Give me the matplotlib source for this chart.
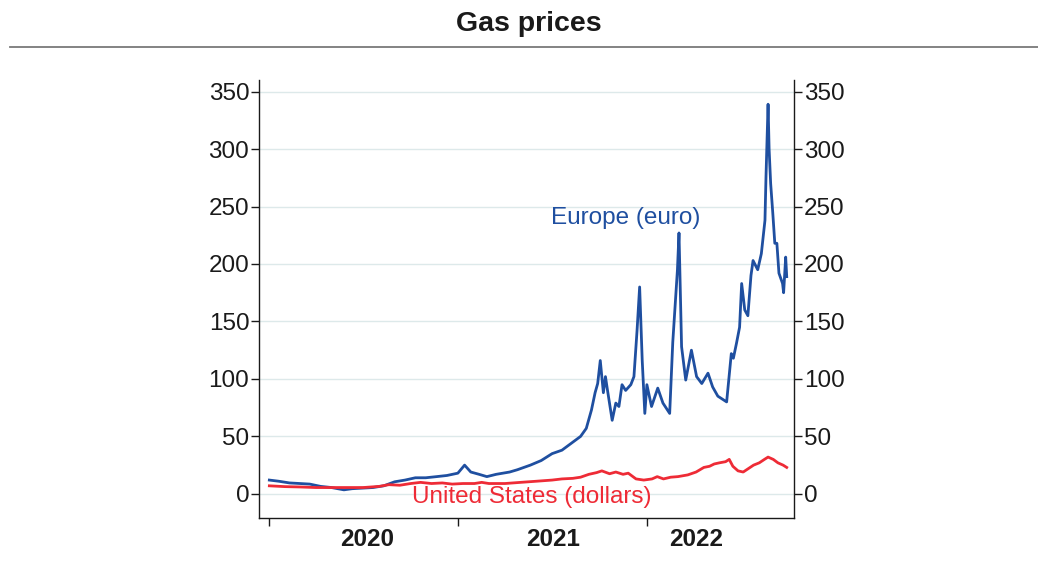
import numpy as np
import pandas as pd
import matplotlib
matplotlib.use("Agg")
import matplotlib.pyplot as plt
from matplotlib.lines import Line2D

plt.rcParams['font.family'] = ['Liberation Sans', 'DejaVu Sans']

# Europe TTF gas price (euro / MWh)
eu_dates = [
    "2020-01-02", "2020-01-20", "2020-02-10", "2020-03-01", "2020-03-20", "2020-04-10",
    "2020-05-01", "2020-05-25", "2020-06-10", "2020-06-30", "2020-07-20", "2020-08-10",
    "2020-08-31", "2020-09-20", "2020-10-10", "2020-10-30", "2020-11-20", "2020-12-10",
    "2020-12-31", "2021-01-13", "2021-01-25", "2021-02-10", "2021-02-25", "2021-03-15",
    "2021-04-10", "2021-04-25", "2021-05-20", "2021-06-10", "2021-07-01", "2021-07-20",
    "2021-08-10", "2021-08-25", "2021-09-05", "2021-09-15", "2021-09-22", "2021-09-27",
    "2021-10-02", "2021-10-08", "2021-10-12", "2021-10-16", "2021-10-25", "2021-11-01",
    "2021-11-07", "2021-11-13", "2021-11-20", "2021-11-30", "2021-12-06", "2021-12-12",
    "2021-12-17", "2021-12-22", "2021-12-27", "2021-12-31", "2022-01-09", "2022-01-21",
    "2022-01-31", "2022-02-13", "2022-02-19", "2022-02-28", "2022-03-03", "2022-03-08",
    "2022-03-16", "2022-03-27", "2022-04-06", "2022-04-16", "2022-04-28", "2022-05-07",
    "2022-05-17", "2022-06-03", "2022-06-12", "2022-06-16", "2022-06-22", "2022-06-28",
    "2022-07-02", "2022-07-08", "2022-07-14", "2022-07-20", "2022-07-24", "2022-08-02",
    "2022-08-09", "2022-08-16", "2022-08-18", "2022-08-22", "2022-08-24", "2022-08-27",
    "2022-08-31", "2022-09-04", "2022-09-08", "2022-09-12", "2022-09-19", "2022-09-21",
    "2022-09-25", "2022-09-27",
]
eu_values = [
    12, 11, 9.5, 9, 8.5, 6.5,
    5.5, 3.5, 4.5, 5, 5.5, 7,
    10.5, 12, 14, 14, 15, 16,
    18, 25, 19, 17, 15, 17,
    19, 21, 25, 29, 35, 38,
    45, 50, 57, 73, 88, 96,
    116, 88, 102, 90, 64, 79,
    76, 95, 90, 95, 102, 142,
    180, 116, 70, 95, 76, 92,
    79, 70, 132, 195, 227, 128,
    99, 125, 102, 96, 105, 93,
    85, 80, 122, 118, 131, 145,
    183, 160, 155, 190, 203, 195,
    209, 238, 276, 339, 300, 270,
    245, 218, 218, 192, 183, 175,
    206, 189,
]

# United States Henry Hub gas price (dollars / MWh)
us_dates = [
    "2020-01-02", "2020-02-01", "2020-03-01", "2020-04-01", "2020-05-01", "2020-06-01",
    "2020-07-01", "2020-08-01", "2020-08-20", "2020-09-10", "2020-10-01", "2020-10-20",
    "2020-11-10", "2020-12-01", "2020-12-20", "2021-01-10", "2021-02-01", "2021-02-15",
    "2021-03-01", "2021-04-01", "2021-05-01", "2021-06-01", "2021-07-01", "2021-07-20",
    "2021-08-10", "2021-08-25", "2021-09-10", "2021-09-25", "2021-10-05", "2021-10-20",
    "2021-11-01", "2021-11-15", "2021-11-25", "2021-12-10", "2021-12-25", "2022-01-10",
    "2022-01-20", "2022-02-01", "2022-02-15", "2022-03-01", "2022-03-20", "2022-04-05",
    "2022-04-20", "2022-05-01", "2022-05-10", "2022-05-20", "2022-06-01", "2022-06-08",
    "2022-06-15", "2022-06-25", "2022-07-05", "2022-07-15", "2022-07-25", "2022-08-05",
    "2022-08-15", "2022-08-22", "2022-09-01", "2022-09-10", "2022-09-20", "2022-09-27",
]
us_values = [
    7, 6.3, 6, 5.5, 5.5, 5.5,
    5.5, 6.5, 8, 7.5, 9, 10,
    9, 9.5, 8.5, 9, 9, 10,
    9, 9, 10, 11, 12, 13,
    13.5, 14.5, 17, 18.5, 20, 17.5,
    19, 17, 18, 13, 12, 13,
    15, 13, 14.5, 15, 16.5, 19,
    23, 24, 26, 27, 28, 30,
    24, 20, 19, 22, 25, 27,
    30, 32, 30, 27, 25, 23,
]

year_ticks = ["2020-01-01", "2021-01-01", "2022-01-01"]
year_label_dates = ["2020-07-08", "2021-07-02", "2022-04-06"]
year_labels = ["2020", "2021", "2022"]
y_ticks = [0, 50, 100, 150, 200, 250, 300, 350]

blue = "#1f4fa0"
red = "#ee2b36"
dark = "#1a1a1a"

eu_x = pd.to_datetime(eu_dates)
us_x = pd.to_datetime(us_dates)

fig = plt.figure(figsize=(10.38, 5.8), dpi=100)
ax = fig.add_axes([0.2495, 0.1069, 0.5154, 0.755])

ax.plot(eu_x, eu_values, color=blue, lw=2.0, zorder=3)
ax.plot(us_x, us_values, color=red, lw=2.0, zorder=3)

ax.set_ylim(-21, 360)
ax.set_xlim(pd.Timestamp("2019-12-13"), pd.Timestamp("2022-10-11"))
ax.set_yticks(y_ticks)
ax.grid(axis='y', color="#dde9ea", lw=1, zorder=0)
ax.set_axisbelow(True)

ax.tick_params(axis='y', which='both', left=True, right=True, labelleft=True,
               labelright=True, direction='out', length=6, width=1, pad=1,
               labelsize=17.5, colors=dark)

ax.set_xticks(pd.to_datetime(year_ticks))
ax.set_xticklabels([])
ax.set_xticks(pd.to_datetime(year_label_dates), minor=True)
ax.set_xticklabels(year_labels, minor=True, fontweight='bold')
ax.tick_params(axis='x', which='major', direction='out', length=6, width=1, colors=dark)
ax.tick_params(axis='x', which='minor', length=0, pad=7, labelsize=17.5, colors=dark)

ax.spines['top'].set_visible(False)
for s in ['left', 'right', 'bottom']:
    ax.spines[s].set_color(dark)
    ax.spines[s].set_linewidth(1)

ax.text(pd.Timestamp("2021-11-20"), 240, "Europe (euro)", color=blue, fontsize=17.5,
        ha='center', va='center')
ax.text(pd.Timestamp("2021-05-23"), -3, "United States (dollars)", color=red, fontsize=17.5,
        ha='center', va='center')

fig.text(0.509, 0.958, "Gas prices", ha='center', va='center', fontsize=20.5,
         fontweight='bold', color=dark)
fig.add_artist(Line2D([0.01, 1.0], [0.919, 0.919], color="#7a7a7a", lw=1.3))

fig.savefig("out.png", dpi=100)
